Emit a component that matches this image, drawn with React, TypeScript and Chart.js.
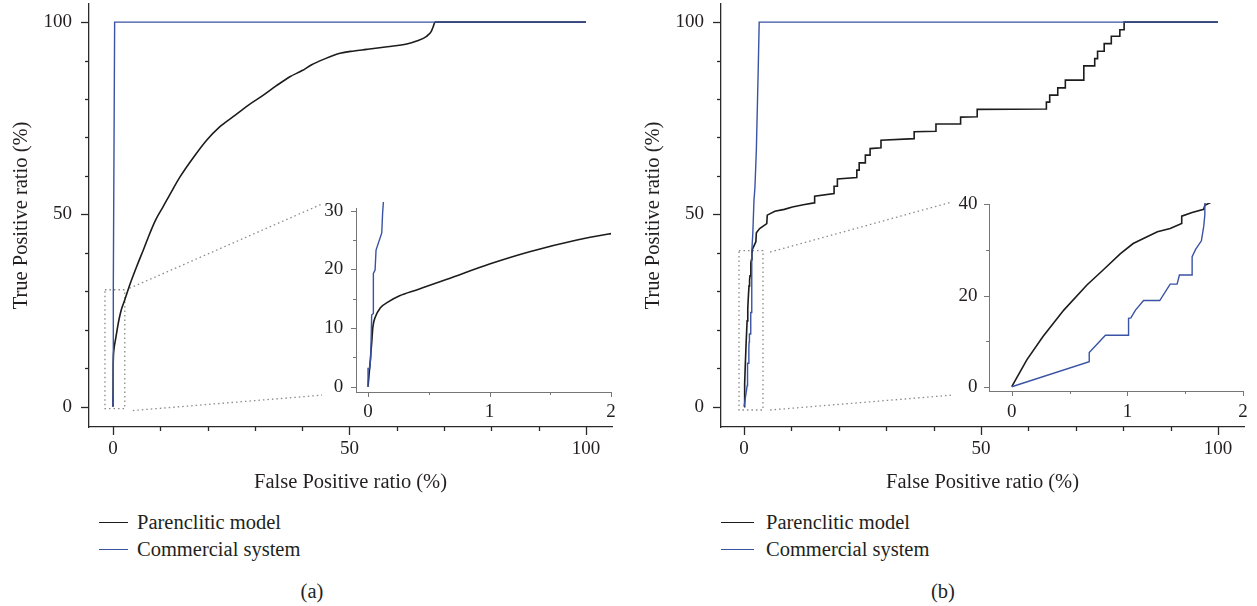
import React, { useEffect, useRef } from 'react';
import { Chart, registerables } from 'chart.js';

Chart.register(...registerables);

// ---------------- data ----------------
// Panel (a)
const aParenFpr = [0, 0.014, 0.03, 0.04, 0.06, 0.1, 0.17, 0.26, 0.4, 0.65, 1.0, 1.33, 1.72, 2.0, 2.5, 3.5, 5, 6.5, 7.8, 9, 10.6, 12.5, 14.2, 17, 19.8, 22.5, 25.4, 28.5, 31.8, 34.5, 37.4, 40, 42, 44.5, 48, 51, 53.6, 58, 62.1, 64.2, 66.3, 67.3, 67.7, 68.1, 100];
const aParenTpr = [0, 3.4, 7.4, 10.2, 11.9, 13.4, 14.5, 15.5, 16.5, 18.3, 20.9, 23.0, 25.0, 26.1, 27.8, 31.5, 36.4, 41, 45.1, 48.5, 52, 56.2, 59.8, 64.8, 69.3, 72.7, 75.4, 78.3, 81, 83.4, 85.8, 87.4, 88.9, 90.3, 91.9, 92.5, 92.9, 93.6, 94.3, 95.1, 96.3, 97.6, 98.8, 100, 100];
const aCommFpr = [0, 0, 0.014, 0.022, 0.03, 0.044, 0.044, 0.058, 0.066, 0.113, 0.12, 0.126, 0.35, 100];
const aCommTpr = [0, 3.1, 3.1, 4.8, 12.2, 12.5, 19.3, 19.9, 23.3, 26.2, 29.6, 31.3, 100, 100];
const aBoxFpr = [-1.7, 2.5, 2.5, -1.7, -1.7];
const aBoxTpr = [30.4, 30.4, -0.5, -0.5, 30.4];
const aLinkTopFpr = [3.5, 44.2];
const aLinkTopTpr = [30.8, 52.7];
const aLinkBotFpr = [4.2, 44.2];
const aLinkBotTpr = [-1.0, 3.0];

// Panel (b)
const bParenFpr = [0, 0.13, 0.27, 0.45, 0.65, 0.79, 0.94, 1.05, 1.17, 1.26, 1.37, 1.47, 1.47, 1.56, 1.66, 1.67, 1.76, 2.5, 2.6, 3.3, 4.8, 4.9, 6.5, 8.5, 10.2, 12.5, 14.8, 14.9, 19, 19, 19.7, 19.7, 23.8, 23.8, 24.3, 24.3, 25.6, 25.6, 26.6, 26.6, 28.9, 28.9, 35.9, 35.9, 40.5, 40.5, 45.7, 45.7, 49.2, 49.2, 63.8, 63.8, 64.5, 64.5, 66.2, 66.2, 67.8, 67.8, 71.7, 71.7, 74, 74, 74.6, 74.6, 76, 76, 77.5, 77.5, 79.3, 79.3, 80.2, 80.2, 100];
const bParenTpr = [0, 5.9, 11, 16.8, 22.3, 25.6, 29.2, 31.4, 32.9, 34.0, 34.7, 35.8, 37.4, 38.2, 38.9, 39.8, 40.9, 42.9, 45.2, 46.3, 47.6, 49.8, 50.8, 51.3, 51.9, 52.5, 53.0, 54.7, 55.4, 57.3, 57.3, 59.2, 59.6, 61.5, 61.5, 63.4, 63.4, 65.4, 65.4, 67.1, 67.3, 69.3, 69.7, 71.5, 71.6, 73.5, 73.5, 75.3, 75.4, 77.3, 77.4, 79.2, 79.2, 81, 81, 82.9, 82.9, 84.9, 84.9, 88.6, 88.6, 90.5, 90.5, 92.4, 92.4, 94.4, 94.4, 96.3, 96.3, 98, 98, 100, 100];
const bCommFpr = [0, 0.67, 0.67, 0.81, 1.01, 1.01, 1.03, 1.07, 1.14, 1.28, 1.37, 1.43, 1.45, 1.56, 1.56, 1.59, 1.64, 1.66, 1.67, 1.67, 1.85, 2.1, 2.3, 2.6, 3.0, 3.2, 100];
const bCommTpr = [0, 5.5, 7.5, 11.3, 11.3, 15.0, 15.1, 16.8, 18.9, 18.9, 22.5, 22.5, 24.5, 24.5, 28.5, 30.1, 32.0, 35.1, 37.7, 40.2, 45, 53.7, 57, 66.7, 88, 100, 100];
const bBoxFpr = [-1.06, 4.0, 4.0, -1.06, -1.06];
const bBoxTpr = [40.6, 40.6, -0.86, -0.86, 40.6];
const bLinkTopFpr = [5.5, 43.8];
const bLinkTopTpr = [40.2, 53.2];
const bLinkBotFpr = [5.5, 43.8];
const bLinkBotTpr = [-0.86, 3.0];

// ticks and text
const mainTickValues = [0, 10, 20, 30, 40, 50, 60, 70, 80, 90, 100];
const mainTickLabels = [0, 50, 100];
const insetXTickValues = [0, 0.5, 1, 1.5, 2];
const insetXTickLabels = [0, 1, 2];
const insetAYTickValues = [0, 5, 10, 15, 20, 25, 30];
const insetAYTickLabels = [0, 10, 20, 30];
const insetBYTickValues = [0, 10, 20, 30, 40];
const insetBYTickLabels = [0, 20, 40];
const xAxisTitle = 'False Positive ratio (%)';
const yAxisTitle = 'True Positive ratio (%)';
const seriesNames = ['Parenclitic model', 'Commercial system'];
const panelCaptions = ['(a)', '(b)'];

// ---------------- styles ----------------
const FONT = "'Liberation Serif', 'DejaVu Serif', serif";
const C_BLACK = '#1c1c1c';
const C_BLUE = '#3a53a4';
const C_AXIS = '#2a2a2a';
const C_INSET_AXIS = '#767676';
const C_DOT = '#8a8a8a';
const C_TEXT = '#231f20';
const TICK_FONT = 19;
const TITLE_FONT = 20.5;

const pts = (xs: number[], ys: number[]) => xs.map((x, i) => ({ x, y: ys[i] }));

const rTicks = {
  id: 'rTicks',
  afterDraw(chart: any, _args: any, opts: any) {
    const ctx = chart.ctx;
    ctx.save();
    ctx.strokeStyle = opts.color;
    ctx.lineWidth = opts.width;
    ['x', 'y'].forEach((id) => {
      const s = chart.scales[id];
      const labeled: number[] = opts.labeled[id];
      s.ticks.forEach((t: any) => {
        const len = labeled.includes(t.value) ? opts.major : opts.minor;
        const p = Math.round(s.getPixelForValue(t.value)) + 0.5;
        ctx.beginPath();
        if (id === 'x') {
          ctx.moveTo(p, s.top);
          ctx.lineTo(p, s.top + len);
        } else {
          ctx.moveTo(s.right, p);
          ctx.lineTo(s.right - len, p);
        }
        ctx.stroke();
      });
    });
    ctx.restore();
  },
};

function axisOpts(a: any, horizontal: boolean, spec: any) {
  return {
    type: 'linear',
    min: a.min,
    max: a.max,
    afterBuildTicks: (s: any) => {
      s.ticks = a.ticks.map((v: number) => ({ value: v }));
    },
    afterFit: (s: any) => {
      if (horizontal) s.height = a.size;
      else s.width = a.size;
      s.paddingTop = 0;
      s.paddingBottom = 0;
      s.paddingLeft = 0;
      s.paddingRight = 0;
    },
    ticks: {
      autoSkip: false,
      maxRotation: 0,
      minRotation: 0,
      padding: a.pad,
      color: C_TEXT,
      font: { family: FONT, size: TICK_FONT },
      callback: (v: number) => (a.labels.includes(v) ? String(v) : ''),
    },
    grid: {
      display: true,
      drawOnChartArea: false,
      drawTicks: true,
      tickLength: spec.tickMajor,
      tickColor: 'rgba(0,0,0,0)',
    },
    border: { display: true, color: spec.axisColor, width: spec.axisWidth },
    title: a.title
      ? { display: true, text: a.title, color: C_TEXT, font: { family: FONT, size: TITLE_FONT }, padding: a.titlePad }
      : { display: false },
  };
}

function ChartBox({ spec }: { spec: any }) {
  const ref = useRef<HTMLCanvasElement | null>(null);
  useEffect(() => {
    if (!ref.current) return;
    const chart = new Chart(ref.current, {
      type: 'line',
      data: { datasets: spec.datasets },
      options: {
        responsive: false,
        animation: false,
        devicePixelRatio: 1,
        layout: { padding: spec.padding },
        elements: { point: { radius: 0 }, line: { tension: 0 } },
        plugins: {
          legend: { display: false },
          tooltip: { enabled: false },
          rTicks: {
            color: spec.axisColor,
            width: spec.axisWidth,
            major: spec.tickMajor,
            minor: spec.tickMinor,
            labeled: { x: spec.x.labels, y: spec.y.labels },
          },
        } as any,
        scales: {
          x: axisOpts(spec.x, true, spec) as any,
          y: axisOpts(spec.y, false, spec) as any,
        },
      },
      plugins: [rTicks as any],
    });
    return () => chart.destroy();
  }, []);
  return (
    <canvas
      ref={ref}
      width={spec.width}
      height={spec.height}
      style={{ position: 'absolute', left: spec.left, top: spec.top, width: spec.width, height: spec.height }}
    />
  );
}

const curve = (data: any, color: string, width: number, extra: any = {}) => ({
  data,
  borderColor: color,
  borderWidth: width,
  pointRadius: 0,
  fill: false,
  ...extra,
});
const dotted = (data: any) => ({
  data,
  borderColor: C_DOT,
  borderWidth: 1.3,
  borderDash: [1.5, 3],
  pointRadius: 0,
  fill: false,
  clip: false,
});

function mainSpec(left: number, xmin: number, smooth: boolean, parenF: number[], parenT: number[], commF: number[], commT: number[], boxF: number[], boxT: number[], ltF: number[], ltT: number[], lbF: number[], lbT: number[]) {
  return {
    left,
    top: 0,
    width: 630,
    height: 500,
    padding: { left: 0, top: 4, right: 18, bottom: 0 },
    axisColor: C_AXIS,
    axisWidth: 1.3,
    tickMajor: 8,
    tickMinor: 4,
    x: { min: xmin, max: 105.5, ticks: mainTickValues, labels: mainTickLabels, size: 73, pad: 2.5, title: xAxisTitle, titlePad: { top: 0, bottom: 4.8 } },
    y: { min: -5.28, max: 104.7, ticks: mainTickValues, labels: mainTickLabels, size: 89, pad: 9, title: yAxisTitle, titlePad: { top: 9.7, bottom: 0 } },
    datasets: [
      curve(pts(commF, commT), C_BLUE, 1.4),
      curve(pts(parenF, parenT), C_BLACK, 1.6, smooth ? { cubicInterpolationMode: 'monotone' } : {}),
      dotted(pts(boxF, boxT)),
      dotted(pts(ltF, ltT)),
      dotted(pts(lbF, lbT)),
    ],
  };
}

const specs = [
  mainSpec(0, -5.07, true, aParenFpr, aParenTpr, aCommFpr, aCommTpr, aBoxFpr, aBoxTpr, aLinkTopFpr, aLinkTopTpr, aLinkBotFpr, aLinkBotTpr),
  mainSpec(632, -4.86, false, bParenFpr, bParenTpr, bCommFpr, bCommTpr, bBoxFpr, bBoxTpr, bLinkTopFpr, bLinkTopTpr, bLinkBotFpr, bLinkBotTpr),
  {
    left: 300,
    top: 190,
    width: 330,
    height: 240,
    padding: { left: 0, top: 18, right: 19, bottom: 0 },
    axisColor: C_INSET_AXIS,
    axisWidth: 1,
    tickMajor: 5,
    tickMinor: 3,
    x: { min: -0.099, max: 2, ticks: insetXTickValues, labels: insetXTickLabels, size: 38, pad: 3.3 },
    y: { min: -0.9, max: 30.46, ticks: insetAYTickValues, labels: insetAYTickLabels, size: 56, pad: 7.7 },
    datasets: [
      curve(pts(aCommFpr, aCommTpr), C_BLUE, 1.4, { clip: { left: 2, top: 6, right: 2, bottom: 2 } }),
      curve(pts(aParenFpr, aParenTpr), C_BLACK, 1.6, { cubicInterpolationMode: 'monotone' }),
    ],
  },
  {
    left: 930,
    top: 190,
    width: 327,
    height: 240,
    padding: { left: 0, top: 14, right: 14, bottom: 0 },
    axisColor: C_INSET_AXIS,
    axisWidth: 1,
    tickMajor: 5,
    tickMinor: 3,
    x: { min: -0.197, max: 2, ticks: insetXTickValues, labels: insetXTickLabels, size: 39, pad: 4.9 },
    y: { min: -0.94, max: 40.07, ticks: insetBYTickValues, labels: insetBYTickLabels, size: 59, pad: 6.5 },
    datasets: [
      curve(pts(bCommFpr, bCommTpr), C_BLUE, 1.4, { clip: { left: 2, top: 1, right: 2, bottom: 2 } }),
      curve(pts(bParenFpr, bParenTpr), C_BLACK, 1.6, { clip: { left: 2, top: 1, right: 2, bottom: 2 } }),
    ],
  },
];

const legendLayout = [
  { lineLeft: 99, lineWidth: 29, textLeft: 137, captionX: 312 },
  { lineLeft: 721, lineWidth: 33, textLeft: 766, captionX: 943 },
];
const legendRowsY = [522, 549];
const captionY = 591;
const legendColors = [C_BLACK, C_BLUE];

const textStyle: React.CSSProperties = {
  position: 'absolute',
  fontFamily: FONT,
  fontSize: TITLE_FONT,
  lineHeight: 1,
  color: C_TEXT,
  whiteSpace: 'nowrap',
  transform: 'translateY(-50%)',
};

export default function App() {
  return (
    <div style={{ position: 'absolute', left: 0, top: 0, width: 1257, height: 606, background: '#fff', overflow: 'hidden' }}>
      {specs.map((s, i) => (
        <ChartBox key={i} spec={s} />
      ))}
      {legendLayout.map((lg, p) => (
        <React.Fragment key={p}>
          {seriesNames.map((name, r) => (
            <React.Fragment key={r}>
              <div
                style={{
                  position: 'absolute',
                  left: lg.lineLeft,
                  top: legendRowsY[r],
                  width: lg.lineWidth,
                  height: 0,
                  borderTop: `1.5px solid ${legendColors[r]}`,
                }}
              />
              <div style={{ ...textStyle, left: lg.textLeft, top: legendRowsY[r] }}>{name}</div>
            </React.Fragment>
          ))}
          <div style={{ ...textStyle, left: lg.captionX, top: captionY, transform: 'translate(-50%, -50%)' }}>{panelCaptions[p]}</div>
        </React.Fragment>
      ))}
    </div>
  );
}
